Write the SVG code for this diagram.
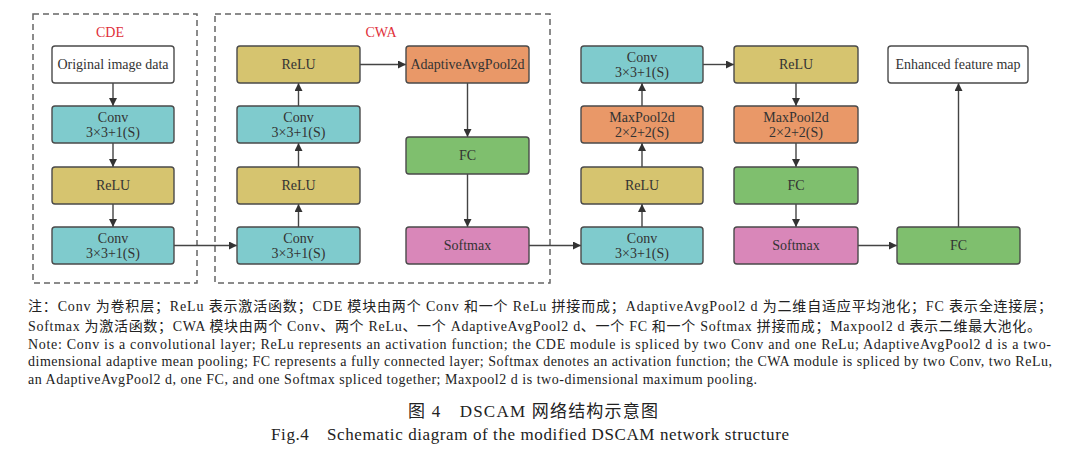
<svg xmlns="http://www.w3.org/2000/svg" width="1080" height="462" viewBox="0 0 1080 462">
<style>
.n{stroke:#4a4a4a;stroke-width:1.4}
.w{fill:#ffffff}.t{fill:#7fcbcd}.y{fill:#d6c46f}.o{fill:#e99868}.g{fill:#7fbf6e}.p{fill:#d987b9}
.bt{font-family:"Liberation Serif","Times New Roman",serif;font-size:14px;fill:#333;text-anchor:middle;dominant-baseline:central}
.grp{fill:none;stroke:#666;stroke-width:1.5;stroke-dasharray:6 4}
.gl{font-family:"Liberation Serif","Times New Roman",serif;font-size:14px;fill:#e0303a;text-anchor:middle;dominant-baseline:central}
.c{stroke:#444;stroke-width:1.4;fill:none;marker-end:url(#ah)}
.cap{font-family:"Liberation Serif","Times New Roman","Noto Sans CJK SC",serif;font-size:14px;fill:#222}
.tit{font-family:"Liberation Serif","Times New Roman","Noto Sans CJK SC",serif;font-size:17px;fill:#222}
</style>
<defs>
<marker id="ah" viewBox="0 0 10 10" refX="10" refY="5" markerWidth="8" markerHeight="8" markerUnits="userSpaceOnUse" orient="auto">
<path d="M0,0 L10,5 L0,10 z" fill="#333"/>
</marker>
</defs>
<rect width="1080" height="462" fill="#fff"/>
<g id="groups">
<rect class="grp" x="33" y="14" width="164" height="269"/>
<text class="gl" x="110" y="32">CDE</text>
<rect class="grp" x="215" y="14" width="335" height="269"/>
<text class="gl" x="381" y="32">CWA</text>
</g>
<g id="connectors">
<line class="c" x1="113" y1="83" x2="113" y2="106"/>
<line class="c" x1="113" y1="143" x2="113" y2="167"/>
<line class="c" x1="113" y1="204" x2="113" y2="227"/>
<line class="c" x1="174" y1="245.5" x2="237" y2="245.5"/>
<line class="c" x1="298.5" y1="227" x2="298.5" y2="204"/>
<line class="c" x1="298.5" y1="167" x2="298.5" y2="143"/>
<line class="c" x1="298.5" y1="106" x2="298.5" y2="83"/>
<line class="c" x1="360" y1="64.5" x2="406" y2="64.5"/>
<line class="c" x1="467.5" y1="83" x2="467.5" y2="137"/>
<line class="c" x1="467.5" y1="174" x2="467.5" y2="227"/>
<line class="c" x1="529" y1="245.5" x2="581" y2="245.5"/>
<line class="c" x1="642" y1="227" x2="642" y2="204"/>
<line class="c" x1="642" y1="167" x2="642" y2="143"/>
<line class="c" x1="642" y1="106" x2="642" y2="83"/>
<line class="c" x1="703" y1="64.5" x2="734" y2="64.5"/>
<line class="c" x1="796" y1="83" x2="796" y2="106"/>
<line class="c" x1="796" y1="143" x2="796" y2="167"/>
<line class="c" x1="796" y1="204" x2="796" y2="227"/>
<line class="c" x1="858" y1="245.5" x2="897" y2="245.5"/>
<line class="c" x1="958.5" y1="227" x2="958.5" y2="83"/>
</g>
<g id="n_input"><rect class="n w" x="52" y="46" width="122" height="37" rx="3"/><text class="bt" x="113" y="64.5">Original image data</text></g>
<g id="n_cde_conv1"><rect class="n t" x="52" y="106" width="122" height="37" rx="3"/><text class="bt" x="113" y="117.5">Conv</text><text class="bt" x="113" y="132.5">3×3+1(S)</text></g>
<g id="n_cde_relu"><rect class="n y" x="52" y="167" width="122" height="37" rx="3"/><text class="bt" x="113" y="185.5">ReLU</text></g>
<g id="n_cde_conv2"><rect class="n t" x="52" y="227" width="122" height="37" rx="3"/><text class="bt" x="113" y="238.5">Conv</text><text class="bt" x="113" y="253.5">3×3+1(S)</text></g>
<g id="n_cwa_conv1"><rect class="n t" x="237" y="227" width="123" height="37" rx="3"/><text class="bt" x="298.5" y="238.5">Conv</text><text class="bt" x="298.5" y="253.5">3×3+1(S)</text></g>
<g id="n_cwa_relu1"><rect class="n y" x="237" y="167" width="123" height="37" rx="3"/><text class="bt" x="298.5" y="185.5">ReLU</text></g>
<g id="n_cwa_conv2"><rect class="n t" x="237" y="106" width="123" height="37" rx="3"/><text class="bt" x="298.5" y="117.5">Conv</text><text class="bt" x="298.5" y="132.5">3×3+1(S)</text></g>
<g id="n_cwa_relu2"><rect class="n y" x="237" y="46" width="123" height="37" rx="3"/><text class="bt" x="298.5" y="64.5">ReLU</text></g>
<g id="n_aap"><rect class="n o" x="406" y="46" width="123" height="37" rx="3"/><text class="bt" x="467.5" y="64.5">AdaptiveAvgPool2d</text></g>
<g id="n_cwa_fc"><rect class="n g" x="406" y="137" width="123" height="37" rx="3"/><text class="bt" x="467.5" y="155.5">FC</text></g>
<g id="n_cwa_softmax"><rect class="n p" x="406" y="227" width="123" height="37" rx="3"/><text class="bt" x="467.5" y="245.5">Softmax</text></g>
<g id="n_d_conv1"><rect class="n t" x="581" y="227" width="122" height="37" rx="3"/><text class="bt" x="642" y="238.5">Conv</text><text class="bt" x="642" y="253.5">3×3+1(S)</text></g>
<g id="n_d_relu"><rect class="n y" x="581" y="167" width="122" height="37" rx="3"/><text class="bt" x="642" y="185.5">ReLU</text></g>
<g id="n_d_pool"><rect class="n o" x="581" y="106" width="122" height="37" rx="3"/><text class="bt" x="642" y="117.5">MaxPool2d</text><text class="bt" x="642" y="132.5">2×2+2(S)</text></g>
<g id="n_d_conv2"><rect class="n t" x="581" y="46" width="122" height="37" rx="3"/><text class="bt" x="642" y="57.5">Conv</text><text class="bt" x="642" y="72.5">3×3+1(S)</text></g>
<g id="n_e_relu"><rect class="n y" x="734" y="46" width="124" height="37" rx="3"/><text class="bt" x="796" y="64.5">ReLU</text></g>
<g id="n_e_pool"><rect class="n o" x="734" y="106" width="124" height="37" rx="3"/><text class="bt" x="796" y="117.5">MaxPool2d</text><text class="bt" x="796" y="132.5">2×2+2(S)</text></g>
<g id="n_e_fc"><rect class="n g" x="734" y="167" width="124" height="37" rx="3"/><text class="bt" x="796" y="185.5">FC</text></g>
<g id="n_e_softmax"><rect class="n p" x="734" y="227" width="124" height="37" rx="3"/><text class="bt" x="796" y="245.5">Softmax</text></g>
<g id="n_fc_out"><rect class="n g" x="897" y="227" width="123" height="37" rx="3"/><text class="bt" x="958.5" y="245.5">FC</text></g>
<g id="n_output"><rect class="n w" x="888" y="46" width="140" height="37" rx="3"/><text class="bt" x="958" y="64.5">Enhanced feature map</text></g>
<g id="caption">
<text class="cap" x="28" y="310.5" textLength="1024" lengthAdjust="spacing">注：Conv 为卷积层；ReLu 表示激活函数；CDE 模块由两个 Conv 和一个 ReLu 拼接而成；AdaptiveAvgPool2 d 为二维自适应平均池化；FC 表示全连接层；</text>
<text class="cap" x="28" y="330.5" textLength="1013" lengthAdjust="spacing">Softmax 为激活函数；CWA 模块由两个 Conv、两个 ReLu、一个 AdaptiveAvgPool2 d、一个 FC 和一个 Softmax 拼接而成；Maxpool2 d 表示二维最大池化。</text>
<text class="cap" x="28" y="348.5" textLength="1023" lengthAdjust="spacing">Note: Conv is a convolutional layer; ReLu represents an activation function; the CDE module is spliced by two Conv and one ReLu; AdaptiveAvgPool2 d is a two-</text>
<text class="cap" x="28" y="366" textLength="1024" lengthAdjust="spacing">dimensional adaptive mean pooling; FC represents a fully connected layer; Softmax denotes an activation function; the CWA module is spliced by two Conv, two ReLu,</text>
<text class="cap" x="28" y="383.5" textLength="729" lengthAdjust="spacing">an AdaptiveAvgPool2 d, one FC, and one Softmax spliced together; Maxpool2 d is two-dimensional maximum pooling.</text>
<text class="tit" x="408" y="417" textLength="250" lengthAdjust="spacing">图 4　DSCAM 网络结构示意图</text>
<text class="tit" x="271" y="440" textLength="518" lengthAdjust="spacing">Fig.4　Schematic diagram of the modified DSCAM network structure</text>
</g>
</svg>
